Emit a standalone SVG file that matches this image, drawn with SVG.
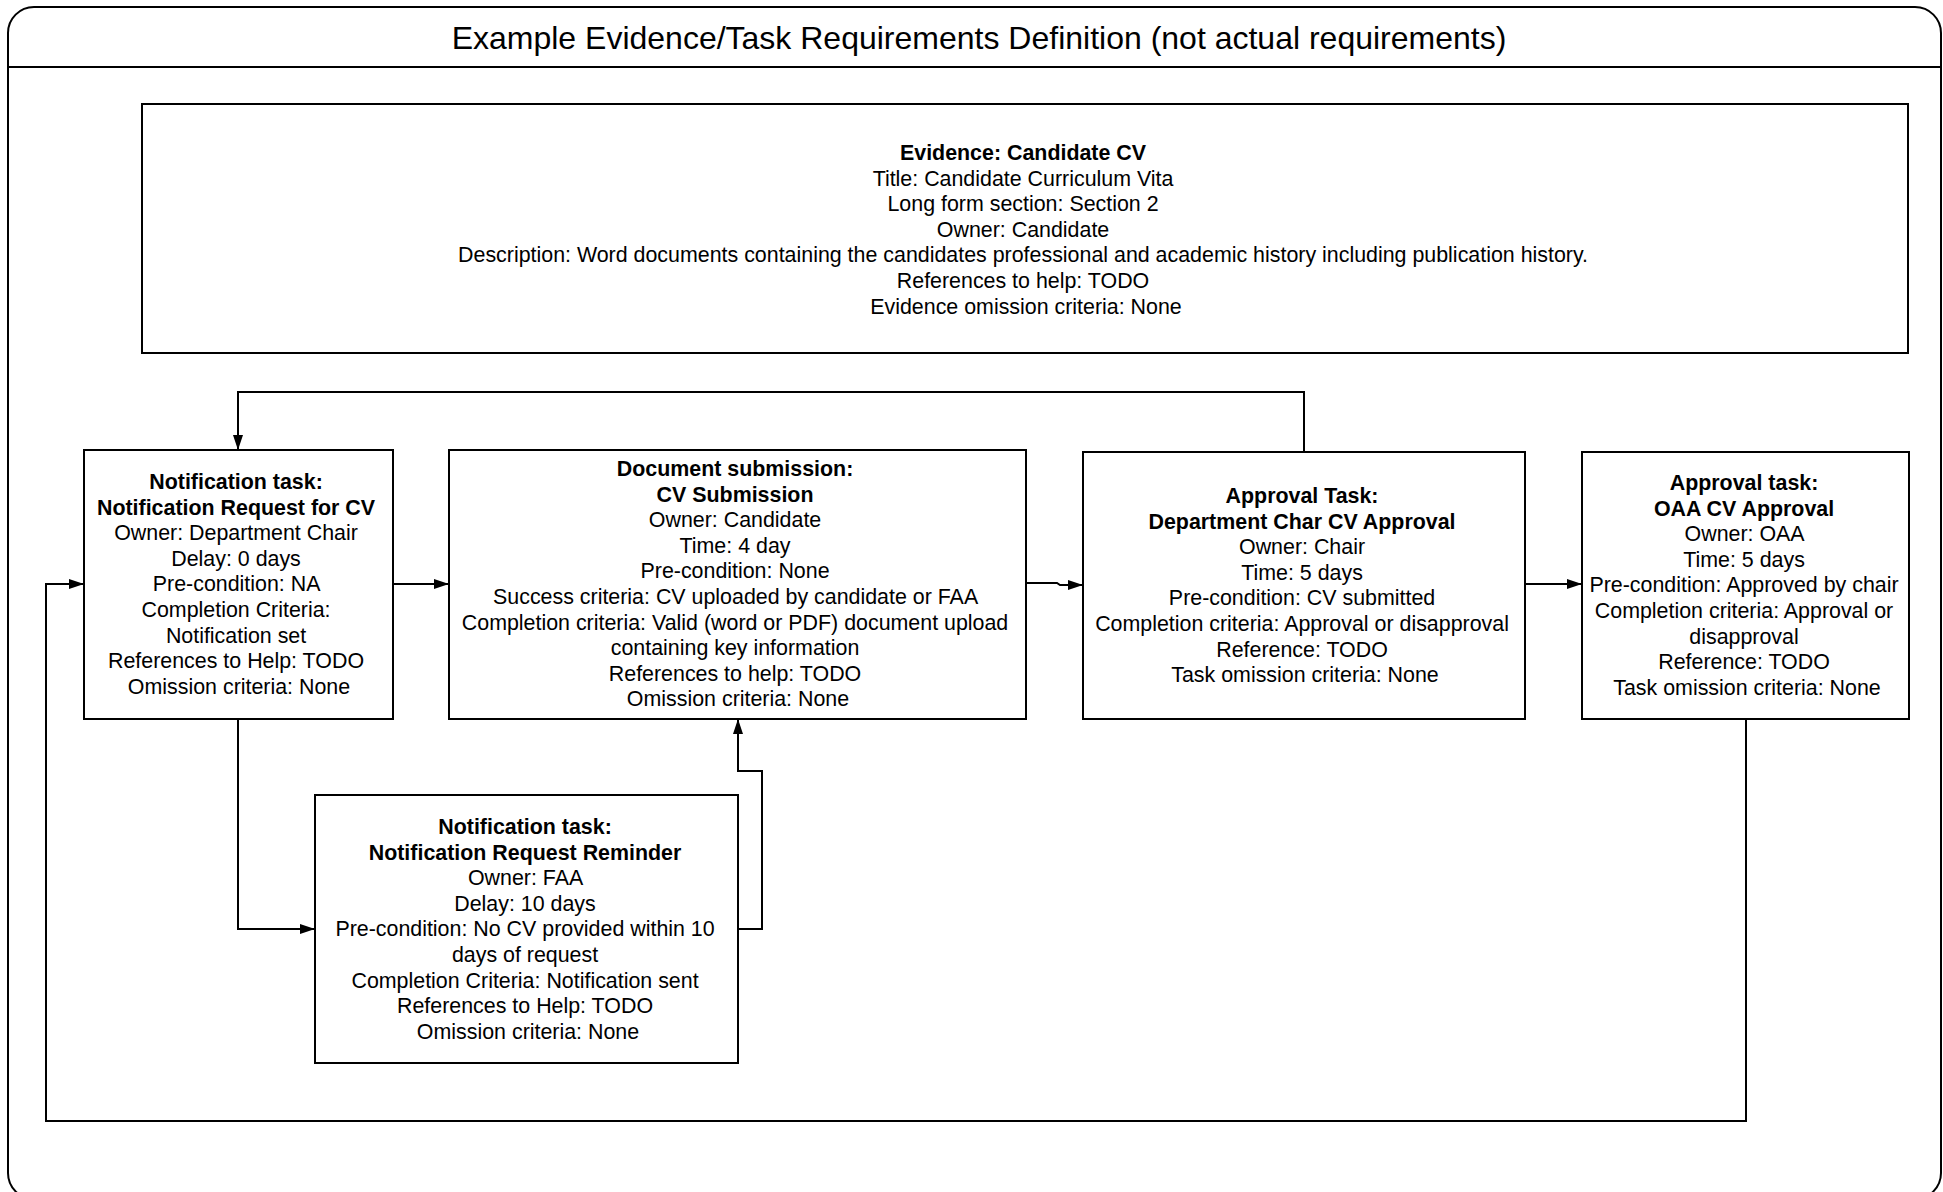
<svg xmlns="http://www.w3.org/2000/svg" width="1943" height="1192" viewBox="0 0 1943 1192">
<defs>
<marker id="arr" markerUnits="userSpaceOnUse" markerWidth="16" markerHeight="10" refX="15" refY="5" orient="auto">
<path d="M0,0 L15,5 L0,10 z" fill="#000"/>
</marker>
<style>
.frame{fill:#fff;stroke:#000;stroke-width:2}
.box{fill:#fff;stroke:#000;stroke-width:2}
.conn{fill:none;stroke:#000;stroke-width:2;marker-end:url(#arr)}
.t{font-family:"Liberation Sans",Arial,sans-serif;font-size:21.4px;fill:#000;text-anchor:middle}
.b{font-weight:bold}
.title{font-family:"Liberation Sans",Arial,sans-serif;font-size:32px;fill:#000;text-anchor:middle}
</style>
</defs>
<rect width="1943" height="1192" fill="#fff"/>
<g id="frame">
<rect class="frame" x="8" y="7" width="1933" height="1192" rx="26" ry="26"/>
<line x1="8" y1="67" x2="1941" y2="67" stroke="#000" stroke-width="2"/>
<text class="title" x="979" y="49">Example Evidence/Task Requirements Definition (not actual requirements)</text>
</g>
<g id="connectors">
<path class="conn" d="M1304,452 V392 H238 V450"/>
<path class="conn" d="M393,584 H449"/>
<path class="conn" d="M1026,583 H1057 L1060,585 H1083"/>
<path class="conn" d="M1525,584 H1582"/>
<path class="conn" d="M238,719 V929 H315"/>
<path class="conn" d="M738,929 H762 V771 H738 V719"/>
<path class="conn" d="M1746,719 V1121 H46 V584 H84"/>
</g>
<g id="evidence">
<rect class="box" x="142" y="104" width="1766" height="249"/>
<text class="t" y="160">
<tspan x="1026" class="b">Evidence: Candidate CV</tspan>
<tspan x="1026" dy="25.6">Title: Candidate Curriculum Vita</tspan>
<tspan x="1026" dy="25.6">Long form section: Section 2</tspan>
<tspan x="1026" dy="25.6">Owner: Candidate</tspan>
<tspan x="1026" dy="25.6">Description: Word documents containing the candidates professional and academic history including publication history.</tspan>
<tspan x="1026" dy="25.6">References to help: TODO</tspan>
<tspan x="1026" dy="25.6">Evidence omission criteria: None</tspan>
</text>
</g>
<g id="node-notification-request">
<rect class="box" x="84" y="450" width="309" height="269"/>
<text class="t" y="489">
<tspan x="239" class="b">Notification task:</tspan>
<tspan x="239" dy="25.6" class="b">Notification Request for CV</tspan>
<tspan x="239" dy="25.6">Owner: Department Chair</tspan>
<tspan x="239" dy="25.6">Delay: 0 days</tspan>
<tspan x="239" dy="25.6">Pre-condition: NA</tspan>
<tspan x="239" dy="25.6">Completion Criteria:</tspan>
<tspan x="239" dy="25.6">Notification set</tspan>
<tspan x="239" dy="25.6">References to Help: TODO</tspan>
<tspan x="239" dy="25.6">Omission criteria: None</tspan>
</text>
</g>
<g id="node-cv-submission">
<rect class="box" x="449" y="450" width="577" height="269"/>
<text class="t" y="476">
<tspan x="738" class="b">Document submission:</tspan>
<tspan x="738" dy="25.6" class="b">CV Submission</tspan>
<tspan x="738" dy="25.6">Owner: Candidate</tspan>
<tspan x="738" dy="25.6">Time: 4 day</tspan>
<tspan x="738" dy="25.6">Pre-condition: None</tspan>
<tspan x="738" dy="25.6">Success criteria: CV uploaded by candidate or FAA</tspan>
<tspan x="738" dy="25.6">Completion criteria: Valid (word or PDF) document upload</tspan>
<tspan x="738" dy="25.6">containing key information</tspan>
<tspan x="738" dy="25.6">References to help: TODO</tspan>
<tspan x="738" dy="25.6">Omission criteria: None</tspan>
</text>
</g>
<g id="node-dept-approval">
<rect class="box" x="1083" y="452" width="442" height="267"/>
<text class="t" y="503">
<tspan x="1305" class="b">Approval Task:</tspan>
<tspan x="1305" dy="25.6" class="b">Department Char CV Approval</tspan>
<tspan x="1305" dy="25.6">Owner: Chair</tspan>
<tspan x="1305" dy="25.6">Time: 5 days</tspan>
<tspan x="1305" dy="25.6">Pre-condition: CV submitted</tspan>
<tspan x="1305" dy="25.6">Completion criteria: Approval or disapproval</tspan>
<tspan x="1305" dy="25.6">Reference: TODO</tspan>
<tspan x="1305" dy="25.6">Task omission criteria: None</tspan>
</text>
</g>
<g id="node-oaa-approval">
<rect class="box" x="1582" y="452" width="327" height="267"/>
<text class="t" y="490">
<tspan x="1747" class="b">Approval task:</tspan>
<tspan x="1747" dy="25.6" class="b">OAA CV Approval</tspan>
<tspan x="1747" dy="25.6">Owner: OAA</tspan>
<tspan x="1747" dy="25.6">Time: 5 days</tspan>
<tspan x="1747" dy="25.6">Pre-condition: Approved by chair</tspan>
<tspan x="1747" dy="25.6">Completion criteria: Approval or</tspan>
<tspan x="1747" dy="25.6">disapproval</tspan>
<tspan x="1747" dy="25.6">Reference: TODO</tspan>
<tspan x="1747" dy="25.6">Task omission criteria: None</tspan>
</text>
</g>
<g id="node-reminder">
<rect class="box" x="315" y="795" width="423" height="268"/>
<text class="t" y="834">
<tspan x="528" class="b">Notification task:</tspan>
<tspan x="528" dy="25.6" class="b">Notification Request Reminder</tspan>
<tspan x="528" dy="25.6">Owner: FAA</tspan>
<tspan x="528" dy="25.6">Delay: 10 days</tspan>
<tspan x="528" dy="25.6">Pre-condition: No CV provided within 10</tspan>
<tspan x="528" dy="25.6">days of request</tspan>
<tspan x="528" dy="25.6">Completion Criteria: Notification sent</tspan>
<tspan x="528" dy="25.6">References to Help: TODO</tspan>
<tspan x="528" dy="25.6">Omission criteria: None</tspan>
</text>
</g>
</svg>
